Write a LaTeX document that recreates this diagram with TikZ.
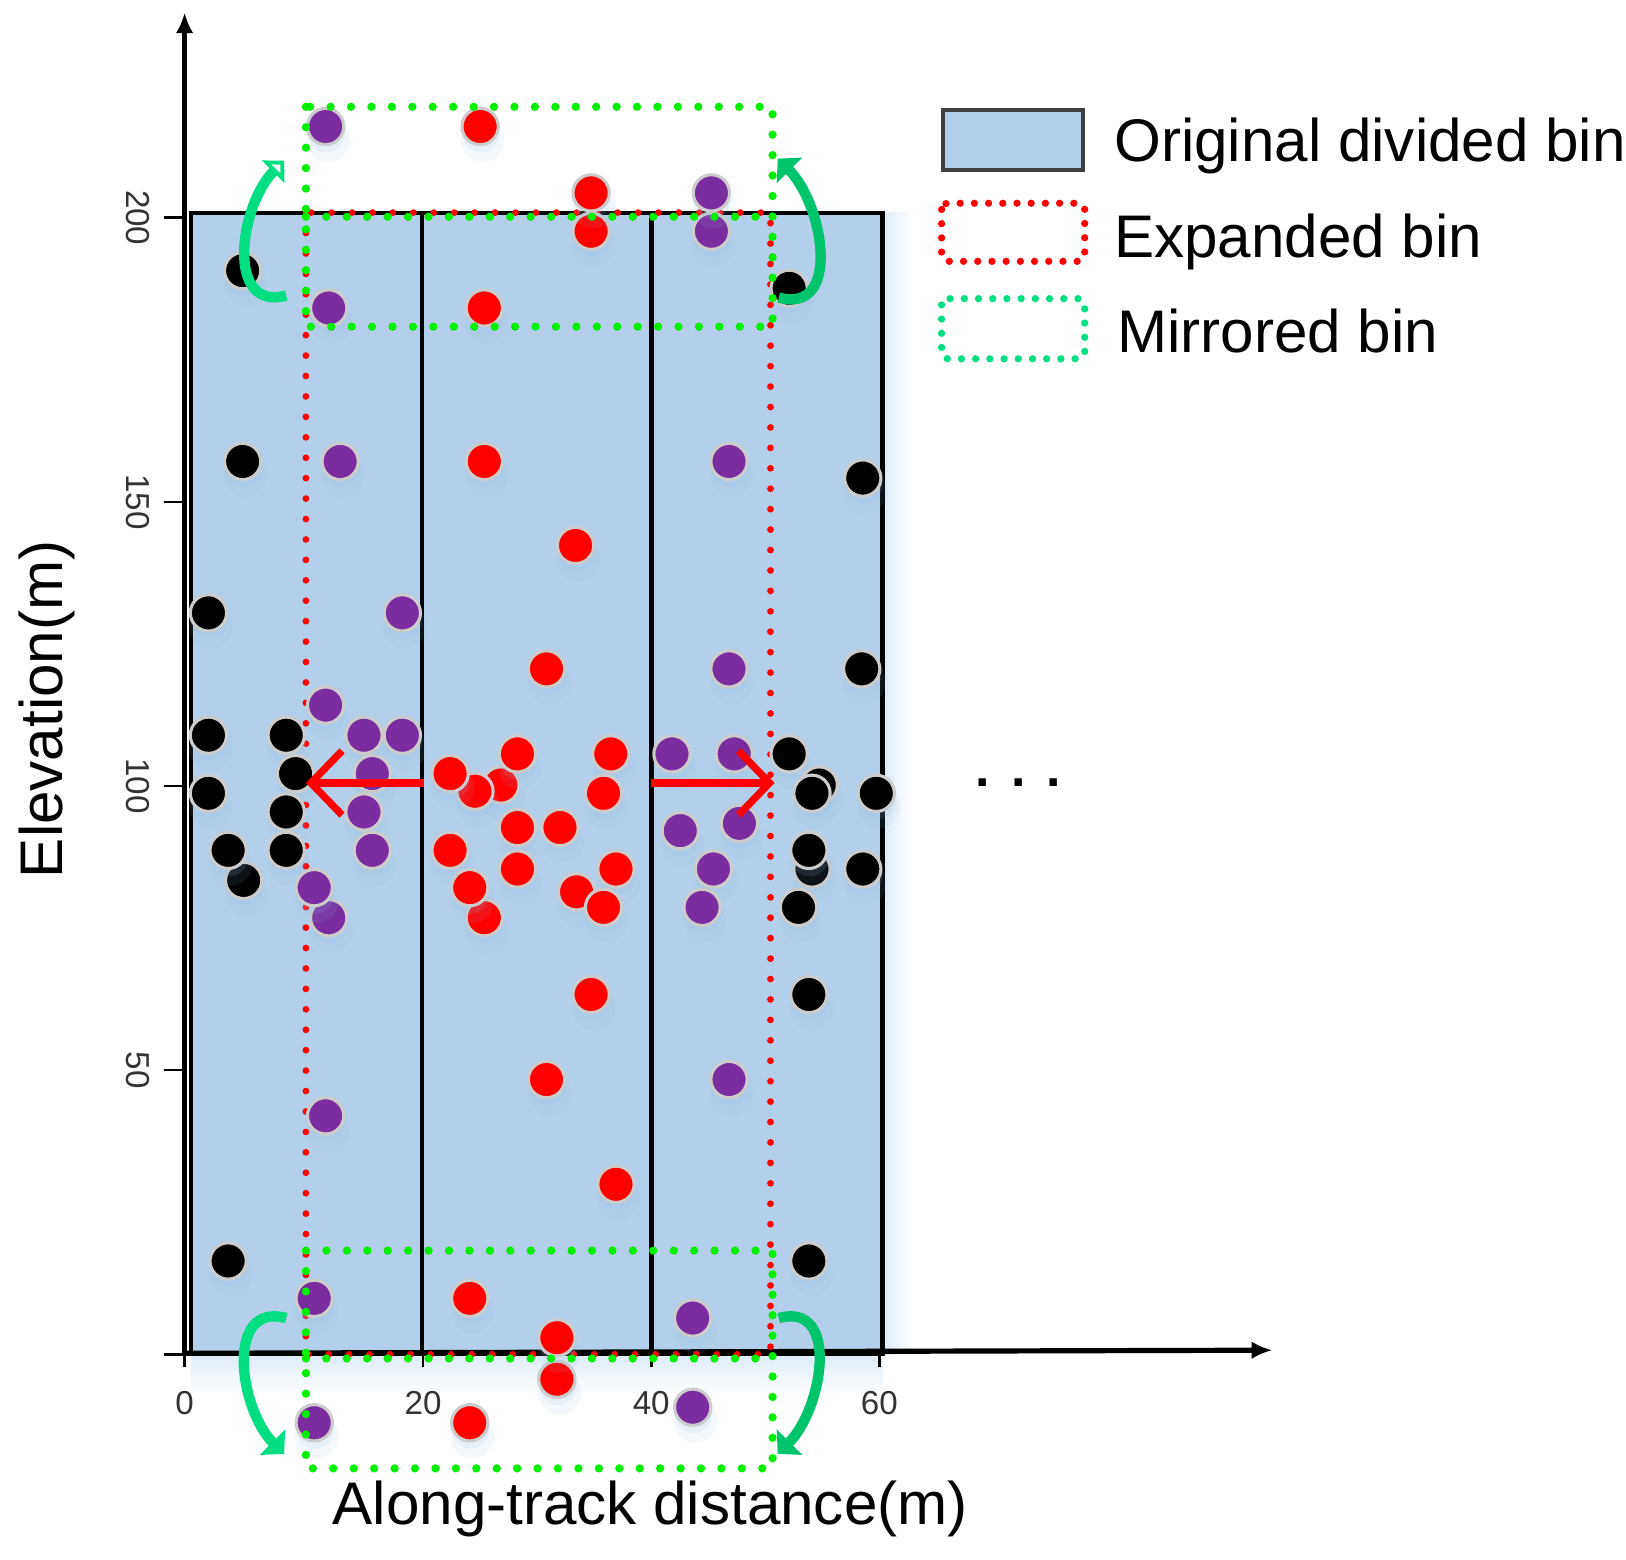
\documentclass[tikz,border=0pt]{standalone}
\usepackage{fontspec}
\setmainfont{Liberation Sans}
\usetikzlibrary{arrows.meta,shadows}

\definecolor{binfill}{HTML}{B4CFE9}
\definecolor{glow}{HTML}{8DBCE6}
\definecolor{rim}{HTML}{CCCCCC}
\definecolor{ptpurple}{HTML}{7B2C9E}
\definecolor{dotgreen}{HTML}{00F000}
\definecolor{arcgreen}{HTML}{00DE82}
\definecolor{arcdark}{HTML}{00C46C}

\tikzset{
    pt/.style={circle, draw=rim, line width=3pt, minimum size=35pt, inner sep=0pt,
        general shadow={fill=glow, opacity=.10, shadow xshift=2pt, shadow yshift=-11pt, shadow scale=1.2},
        general shadow={fill=glow, opacity=.14, shadow xshift=1pt, shadow yshift=-7pt, shadow scale=1.02}},
    ptblack/.style={pt, fill=black},
    ptpurple/.style={pt, fill=ptpurple},
    ptred/.style={pt, fill=red},
    reddots/.style={red, line width=6.5pt, line cap=round, dash pattern=on 0pt off 19.7pt},
    greendots/.style={dotgreen, line width=8pt, line cap=round, dash pattern=on 0pt off 19.7pt},
    legenddots/.style={line width=7pt, line cap=round, dash pattern=on 0pt off 13.7pt, rounded corners=6pt},
    ticklab/.style={font=\fontsize{32}{34}\selectfont, text=black!80},
    biglab/.style={font=\fontsize{58}{62}\selectfont, anchor=west},
    axislab/.style={font=\fontsize{58}{62}\selectfont},
    redarrow/.style={red, line width=7pt, -{Straight Barb[length=30pt,width=62pt,line width=7pt]}},
    greenarc/.style={line width=10pt, -{Triangle[length=16pt,width=34pt]}}
}

\begin{document}
\begin{tikzpicture}[x=1pt, y=-1pt]
    \useasboundingbox (0,0) rectangle (1568,1504);

    % bins
    \shade[left color=glow!30, right color=white] (851,205) rectangle (880,1306);
    \shade[top color=glow!30, bottom color=white] (184,1306) rectangle (851,1345);
    \draw[line width=4pt, fill=binfill] (184,205) rectangle (851,1306);
    \draw[line width=4.5pt] (407,205) -- (407,1306);
    \draw[line width=4.5pt] (628,205) -- (628,1306);

    % axes
    \draw[line width=5pt, -{Latex[length=20pt,width=17pt]}] (178,1306) -- (178,12);
    \draw[line width=5pt, -{Latex[length=20pt,width=17pt]}] (178,1305) -- (1227,1302);
    \foreach \y/\lab in {210/200, 484/150, 758/100, 1032/50} {
        \draw[line width=2.5pt] (158,\y) -- (178,\y);
        \node[ticklab, rotate=-90] (y\lab) at (133,\y) {\lab};
    }
    \draw[line width=2.5pt] (158,1306) -- (178,1306);
    \foreach \x/\lab in {178/0, 408/20, 628/40, 848/60} {
        \draw[line width=2.5pt] (\x,1306) -- (\x,1318);
        \node[ticklab] (x\lab) at (\x,1353) {\lab};
    }
    \node[axislab, rotate=90] (ylabel) at (45,684) {Elevation(m)};
    \node[axislab] (xlabel) at (627,1455) {Along-track distance(m)};

    \draw[reddots] (295,205) rectangle (743,1306);

    % points
    \foreach \x/\y [count=\i] in {234/261, 761/278, 234/445, 832/461, 201/591, 831/645, 201/709, 276/709,
        285/746, 201/765, 276/783, 235/849, 220/820, 276/820, 761/727, 790/757, 783/765, 845/765,
        783/838, 780/820, 832/838, 770/875, 780/959, 220/1216, 780/1216}
        \node[ptblack] (k\i) at (\x,\y) {};
    \foreach \x/\y [count=\i] in {314/122, 686/223, 686/186, 317/297, 328/445, 703/445, 388/591, 703/645,
        314/680, 351/709, 388/709, 648/727, 708/727, 359/746, 351/783, 656/801, 713/794, 359/820,
        688/838, 317/885, 303/856, 677/875, 703/1041, 314/1076, 303/1252, 668/1271, 303/1372, 668/1357}
        \node[ptpurple] (p\i) at (\x,\y) {};
    \foreach \x/\y [count=\i] in {463/122, 570/223, 570/186, 467/297, 467/445, 555/526, 527/645, 589/727,
        483/757, 499/727, 458/763, 434/746, 582/765, 499/798, 540/798, 434/820, 594/838, 499/838,
        467/885, 453/856, 556/860, 582/875, 570/959, 527/1041, 594/1142, 453/1252, 537/1330, 537/1290, 453/1372}
        \node[ptred] (r\i) at (\x,\y) {};

    \draw[greendots] (295,103) rectangle (745,315);
    \draw[greendots] (295,1206) rectangle (745,1416);
    \draw[greendots] (295,209) -- (745,209);
    \draw[greendots] (295,1310) -- (745,1310);

    % expand arrows
    \coordinate (al) at (409,755);
    \coordinate (ar) at (628,755);
    \coordinate (bl) at (295,755);
    \coordinate (br) at (747,755);
    \draw[redarrow] (al) -- (bl);
    \draw[redarrow] (ar) -- (br);

    % mirror arrows
    \coordinate (tl0) at (276,285);
    \coordinate (tl1) at (274,155);
    \coordinate (tr0) at (751,287);
    \coordinate (tr1) at (750,153);
    \coordinate (dl0) at (276,1271);
    \coordinate (dl1) at (274,1402);
    \coordinate (dr0) at (751,1271);
    \coordinate (dr1) at (750,1402);
    \draw[greenarc, arcgreen, -{Triangle[open,fill=white,length=15pt,width=30pt,line width=4pt]}] (tl0) to[out=195, in=225, looseness=1.2] (tl1);
    \draw[greenarc, arcgreen] (dl0) to[out=165, in=135, looseness=1.2] (dl1);
    \draw[greenarc, arcdark] (tr0) to[out=-15, in=-45, looseness=1.2] (tr1);
    \draw[greenarc, arcdark] (dr0) to[out=15, in=45, looseness=1.2] (dr1);

    % legend
    \draw[line width=4pt, draw=black!75, fill=binfill] (909,106) rectangle (1044,164);
    \draw[legenddots, red] (908,196) rectangle (1046,252);
    \draw[legenddots, arcgreen] (908,288) rectangle (1046,346);
    \node[biglab] (orig) at (1071,141) {Original divided bin};
    \node[biglab] (expd) at (1071,233) {Expanded bin};
    \node[biglab] (mirr) at (1074,319) {Mirrored bin};

    \node[font=\fontsize{50}{54}\bfseries\selectfont] (more) at (982,755) {.\hspace{20pt}.\hspace{20pt}.};
\end{tikzpicture}
\end{document}
